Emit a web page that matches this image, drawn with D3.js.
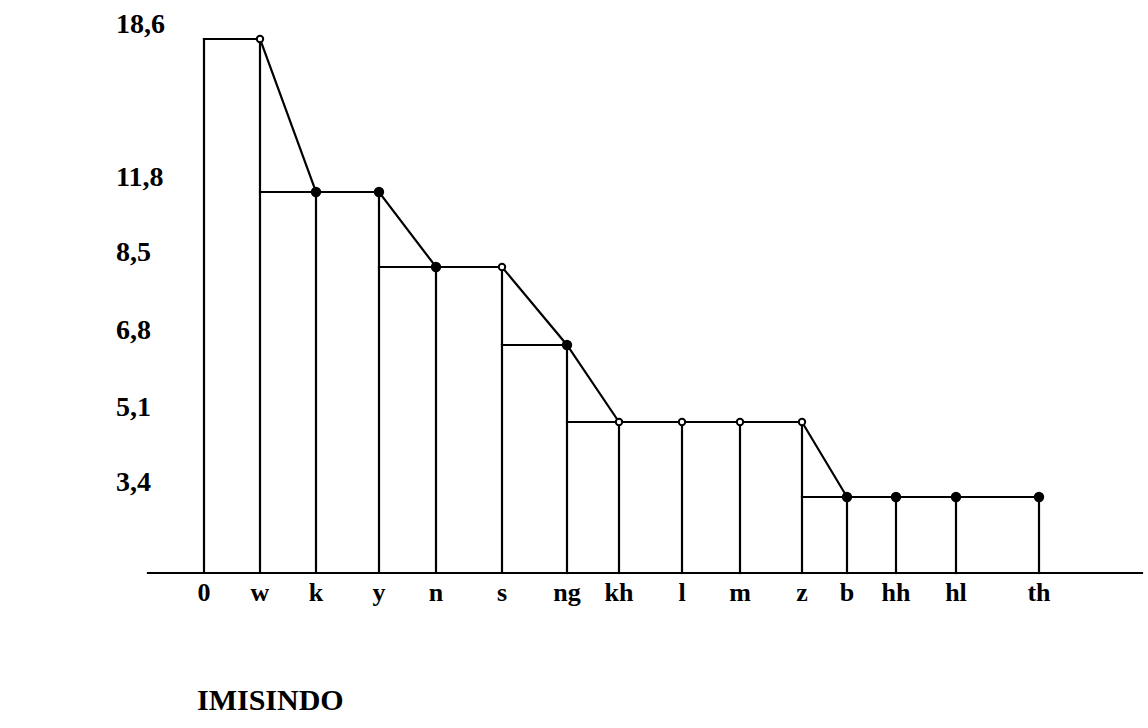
<!DOCTYPE html>
<html>
<head>
<meta charset="utf-8">
<script src="https://cdn.jsdelivr.net/npm/d3@7"></script>
<style>
  html, body { margin: 0; padding: 0; background: #fff; }
  svg { display: block; }
  text { font-family: "Liberation Serif", "Times New Roman", serif; fill: #000; }
</style>
</head>
<body>
<svg id="chart" width="1148" height="728"></svg>
<script>
// ---- data ----
const categories = ["0", "w", "k", "y", "n", "s", "ng", "kh", "l", "m", "z", "b", "hh", "hl", "th"];
const values     = [18.6, 18.6, 11.8, 11.8, 8.5, 8.5, 6.8, 5.1, 5.1, 5.1, 5.1, 3.4, 3.4, 3.4, 3.4];
const levels      = [18.6, 11.8, 8.5, 6.8, 5.1, 3.4];
const levelLabels = ["18,6", "11,8", "8,5", "6,8", "5,1", "3,4"];
const openPoints  = ["w", "s", "kh", "l", "m", "z"];
const title = "IMISINDO";

// ---- layout ----
const svg = d3.select("#chart");
const baseY = 573;
const x = d3.scaleOrdinal()
  .domain(categories)
  .range([204, 260, 316, 379, 436, 502, 567, 619, 682, 740, 802, 847, 896, 956, 1039]);
const y = d3.scaleLinear()
  .domain([0, 3.4, 5.1, 6.8, 8.5, 11.8, 18.6])
  .range([baseY, 497, 422, 345, 267, 192, 39]);

const data = categories.map((c, i) => ({ c, v: values[i] }));
const g = svg.append("g")
  .attr("stroke", "#000").attr("stroke-width", 2.2).attr("fill", "none")
  .attr("stroke-linecap", "square");

// baseline
g.append("line").attr("x1", 148).attr("x2", 1142).attr("y1", baseY).attr("y2", baseY);

// vertical lines
g.selectAll("line.v").data(data).join("line").attr("class", "v")
  .attr("x1", d => x(d.c)).attr("x2", d => x(d.c))
  .attr("y1", baseY).attr("y2", d => y(d.v));

// horizontal steps: each level from category preceding its first member to its last member
const steps = levels.map(L => {
  const first = values.indexOf(L);
  const last = values.lastIndexOf(L);
  const start = Math.max(0, first - 1);
  return { L, x1: x(categories[L === values[0] ? 0 : start]), x2: x(categories[last]) };
});
g.selectAll("line.h").data(steps).join("line").attr("class", "h")
  .attr("x1", d => d.x1).attr("x2", d => d.x2)
  .attr("y1", d => y(d.L)).attr("y2", d => y(d.L));

// connecting polyline (from w onward)
const pts = data.slice(1);
g.append("path")
  .attr("d", d3.line().x(d => x(d.c)).y(d => y(d.v))(pts));

// markers
svg.selectAll("circle.pt").data(pts).join("circle").attr("class", "pt")
  .attr("cx", d => x(d.c)).attr("cy", d => y(d.v))
  .attr("r", d => openPoints.includes(d.c) ? 3.2 : 4.2)
  .attr("fill", d => openPoints.includes(d.c) ? "#fff" : "#000")
  .attr("stroke", "#000").attr("stroke-width", 2);

// y labels
svg.selectAll("text.yl").data(levels).join("text").attr("class", "yl")
  .attr("x", 116).attr("y", d => y(d) - 6)
  .attr("font-size", 28).attr("font-weight", "bold")
  .text((d, i) => levelLabels[i]);

// x labels
svg.selectAll("text.xl").data(categories).join("text").attr("class", "xl")
  .attr("x", d => x(d)).attr("y", 601)
  .attr("text-anchor", "middle")
  .attr("font-size", 26).attr("font-weight", "bold")
  .text(d => d);

// title
svg.append("text").attr("x", 197).attr("y", 710)
  .attr("font-size", 30).attr("font-weight", "bold").text(title);
</script>
</body>
</html>
